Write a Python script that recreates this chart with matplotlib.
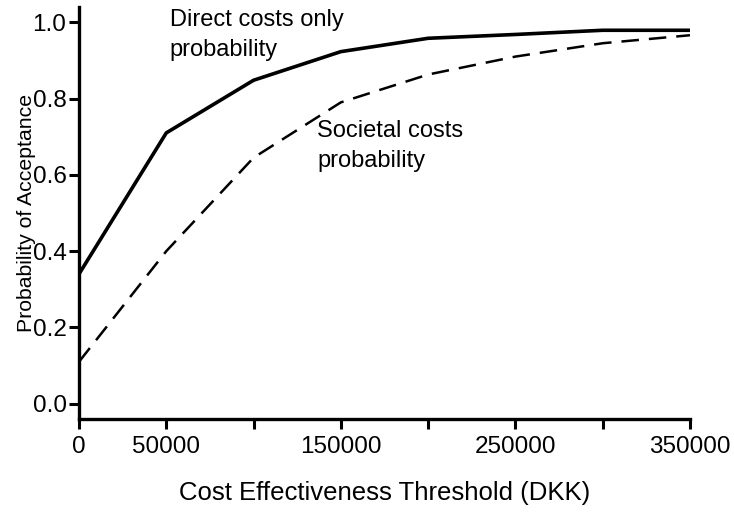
import matplotlib
matplotlib.use("Agg")
import matplotlib.pyplot as plt

thresholds = [0, 50000, 100000, 150000, 200000, 250000, 300000, 350000]
direct_costs = [0.34, 0.71, 0.848, 0.923, 0.958, 0.968, 0.979, 0.979]
societal_costs = [0.11, 0.40, 0.645, 0.79, 0.863, 0.91, 0.945, 0.966]
x_tick_values = [0, 50000, 100000, 150000, 200000, 250000, 300000, 350000]
x_tick_labels = ["0", "50000", "", "150000", "", "250000", "", "350000"]
y_tick_values = [0.0, 0.2, 0.4, 0.6, 0.8, 1.0]
y_tick_labels = ["0.0", "0.2", "0.4", "0.6", "0.8", "1.0"]

plt.rcParams['font.family'] = ['Liberation Sans', 'DejaVu Sans']

fig = plt.figure(figsize=(7.34, 5.13), dpi=100)
ax = fig.add_axes([79/734, 1 - 419/513, (690 - 79)/734, (419 - 7)/513])

ax.plot(thresholds, direct_costs, color='black', lw=2.6, solid_joinstyle='miter')
ax.plot(thresholds, societal_costs, color='black', lw=1.8, dashes=(7, 4))

ax.set_xlim(0, 350000)
ax.set_ylim(-0.04, 1.04)
ax.set_xticks(x_tick_values)
ax.set_xticklabels(x_tick_labels)
ax.set_yticks(y_tick_values)
ax.set_yticklabels(y_tick_labels)

for s in ['top', 'right']:
    ax.spines[s].set_visible(False)
for s in ['left', 'bottom']:
    ax.spines[s].set_linewidth(2.4)

ax.tick_params(axis='both', which='major', direction='out', width=2.2, length=7,
               labelsize=17.5, colors='black')
ax.tick_params(axis='x', pad=5)
ax.tick_params(axis='y', pad=2)

ax.set_xlabel("Cost Effectiveness Threshold (DKK)", fontsize=18.5, labelpad=17)
ax.yaxis.set_label_coords(-0.071, 0.549)
ax.set_ylabel("Probability of Acceptance", fontsize=15.3)

ax.text(52000, 1.035, "Direct costs only\nprobability", fontsize=17, va='top', ha='left',
        linespacing=1.5)
ax.text(136300, 0.745, "Societal costs\nprobability", fontsize=17, va='top', ha='left',
        linespacing=1.5)

fig.savefig("out.png", dpi=100)
